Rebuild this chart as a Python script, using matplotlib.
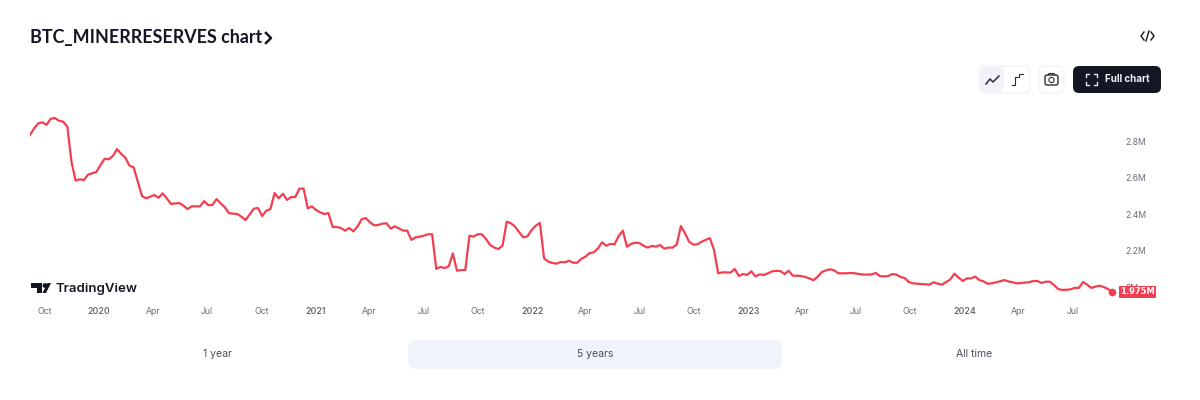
import numpy as np
import pandas as pd
import matplotlib.pyplot as plt
from matplotlib.patches import FancyBboxPatch, Polygon, Rectangle, Circle

plt.rcParams['font.family'] = ['Inter', 'DejaVu Sans']

# weekly miner reserves, millions of BTC
reserves = [
    2.833, 2.869, 2.897, 2.902, 2.889, 2.922, 2.926, 2.911, 2.906, 2.879,
    2.687, 2.583, 2.590, 2.586, 2.616, 2.623, 2.630, 2.668, 2.703, 2.700,
    2.718, 2.756, 2.729, 2.709, 2.665, 2.656, 2.577, 2.499, 2.486, 2.495,
    2.504, 2.489, 2.513, 2.486, 2.455, 2.458, 2.460, 2.446, 2.427, 2.442,
    2.442, 2.442, 2.471, 2.449, 2.449, 2.482, 2.458, 2.437, 2.404, 2.402,
    2.400, 2.385, 2.367, 2.398, 2.429, 2.433, 2.389, 2.418, 2.427, 2.515,
    2.486, 2.511, 2.477, 2.493, 2.493, 2.539, 2.539, 2.431, 2.442, 2.422,
    2.409, 2.400, 2.405, 2.329, 2.329, 2.323, 2.309, 2.323, 2.305, 2.331,
    2.371, 2.378, 2.354, 2.338, 2.340, 2.347, 2.349, 2.320, 2.332, 2.321,
    2.309, 2.309, 2.258, 2.272, 2.276, 2.281, 2.289, 2.289, 2.099, 2.110,
    2.104, 2.113, 2.184, 2.089, 2.093, 2.093, 2.281, 2.276, 2.289, 2.289,
    2.263, 2.230, 2.216, 2.208, 2.228, 2.358, 2.349, 2.331, 2.300, 2.272,
    2.278, 2.312, 2.336, 2.351, 2.157, 2.139, 2.132, 2.128, 2.137, 2.135,
    2.144, 2.133, 2.133, 2.155, 2.166, 2.186, 2.190, 2.212, 2.245, 2.226,
    2.236, 2.234, 2.279, 2.309, 2.221, 2.236, 2.243, 2.241, 2.226, 2.216,
    2.225, 2.221, 2.230, 2.210, 2.216, 2.216, 2.232, 2.334, 2.294, 2.248,
    2.232, 2.234, 2.248, 2.258, 2.268, 2.203, 2.075, 2.080, 2.080, 2.079,
    2.099, 2.060, 2.071, 2.066, 2.086, 2.058, 2.069, 2.066, 2.075, 2.086,
    2.088, 2.088, 2.071, 2.089, 2.062, 2.062, 2.060, 2.055, 2.047, 2.037,
    2.057, 2.082, 2.091, 2.097, 2.091, 2.075, 2.075, 2.075, 2.077, 2.075,
    2.071, 2.068, 2.068, 2.069, 2.077, 2.060, 2.058, 2.060, 2.071, 2.068,
    2.055, 2.049, 2.027, 2.020, 2.018, 2.016, 2.015, 2.013, 2.026, 2.018,
    2.013, 2.027, 2.042, 2.073, 2.051, 2.033, 2.047, 2.047, 2.057, 2.038,
    2.031, 2.018, 2.020, 2.026, 2.031, 2.038, 2.031, 2.026, 2.020, 2.022,
    2.024, 2.026, 2.033, 2.033, 2.022, 2.029, 2.029, 2.011, 1.989, 1.984,
    1.985, 1.987, 1.995, 1.995, 2.027, 2.013, 1.995, 2.002, 2.007, 2.000,
    1.989, 1.975,
]
tick_dates = [
    '2019-10-01', '2020-01-01', '2020-04-01', '2020-07-01', '2020-10-01',
    '2021-01-01', '2021-04-01', '2021-07-01', '2021-10-01', '2022-01-01',
    '2022-04-01', '2022-07-01', '2022-10-01', '2023-01-01', '2023-04-01',
    '2023-07-01', '2023-10-01', '2024-01-01', '2024-04-01', '2024-07-01',
]
tick_labels = [
    'Oct', '2020', 'Apr', 'Jul', 'Oct', '2021', 'Apr', 'Jul', 'Oct', '2022',
    'Apr', 'Jul', 'Oct', '2023', 'Apr', 'Jul', 'Oct', '2024', 'Apr', 'Jul',
]
y_ticks = [2.0, 2.2, 2.4, 2.6, 2.8]
y_labels = ['2M', '2.2M', '2.4M', '2.6M', '2.8M']
ranges = ['1 year', '5 years', 'All time']

RED = '#F23F50'
DARK = '#131722'
GREY = '#6A6D78'

W, H = 1200, 400
dates = pd.date_range('2019-09-06', periods=len(reserves), freq='7D')

fig = plt.figure(figsize=(12, 4), dpi=100)

# main chart, spans pixels 30-1112 across and 100-300 down
ax = fig.add_axes([30 / W, 1 - 300 / H, (1112 - 30) / W, 200 / H])
ax.plot(dates, reserves, color=RED, lw=1.6, solid_joinstyle='round')
ax.plot(dates[-1], reserves[-1], 'o', color=RED, ms=4.5, clip_on=False)
ax.set_xlim(dates[0], dates[-1])
ax.set_ylim(1.9288, 3.0247)
for s in ax.spines.values():
    s.set_visible(False)
ax.set_xticks(pd.to_datetime(tick_dates))
ax.set_xticklabels(tick_labels, fontsize=6.3, color=GREY)
for lab in ax.get_xticklabels():
    if lab.get_text().isdigit():
        lab.set_fontweight('semibold')
ax.set_yticks(y_ticks)
ax.set_yticklabels(y_labels, fontsize=6.2, color=GREY)
ax.yaxis.tick_right()
ax.tick_params(axis='x', length=0, pad=5)
ax.tick_params(axis='y', length=0, pad=9.5)

# page furniture in pixel coordinates
ui = fig.add_axes([0, 0, 1, 1], zorder=3)
ui.set_xlim(0, W)
ui.set_ylim(H, 0)
ui.axis('off')
ui.patch.set_alpha(0)


def box(x0, y0, x1, y1, color, edge='none', r=6):
    ui.add_patch(FancyBboxPatch((x0 + r, y0 + r), x1 - x0 - 2 * r, y1 - y0 - 2 * r,
                                boxstyle=f'round,pad={r},rounding_size={r}',
                                fc=color, ec=edge, lw=1))


ui.text(30, 37, 'BTC_MINERRESERVES chart', fontsize=12.9, fontweight='bold',
        color=DARK, va='center', family=['Lato', 'DejaVu Sans'])
ui.plot([266, 271, 266], [33, 38, 43], color=DARK, lw=1.8)

# embed icon
ui.plot([1144, 1141, 1144], [32, 36, 40], color=DARK, lw=1)
ui.plot([1151, 1154, 1151], [32, 36, 40], color=DARK, lw=1)
ui.plot([1146, 1149], [41, 31], color=DARK, lw=1)

# line / step toggle
box(979, 66, 1030, 93, 'white', '#F0F3FA')
box(980, 67, 1004, 92, '#F0F3FA')
ui.plot([986, 990, 993, 999], [84, 79, 82, 76], color='#2A2E39', lw=1.1)
ui.plot([1012, 1015, 1015, 1019, 1019, 1023], [85, 85, 77, 77, 74, 74], color='#2A2E39', lw=0.8)

# camera
box(1039, 66, 1064, 93, 'white', '#F0F3FA')
box(1045, 75, 1058, 85, 'white', '#2A2E39', r=2)
ui.plot([1048, 1049, 1054, 1055], [75, 73.5, 73.5, 75], color='#2A2E39', lw=0.8)
ui.add_patch(Circle((1051.5, 80), 2.6, fc='white', ec='#2A2E39', lw=0.8))

# full chart button
box(1073, 66, 1161, 93, DARK)
for cx, cy, dx, dy in [(1086, 74, 1, 1), (1097, 74, -1, 1), (1086, 85, 1, -1), (1097, 85, -1, -1)]:
    ui.plot([cx + 3 * dx, cx, cx], [cy, cy, cy + 3 * dy], color='#E0E3EB', lw=1)
ui.text(1105, 79, 'Full chart', fontsize=7, fontweight='bold', color='#F0F3FA', va='center')

# TradingView mark
ui.add_patch(Polygon([(31, 283), (42, 283), (42, 293), (37, 293), (37, 288), (31, 288)],
                     fc=DARK, ec='none'))
ui.add_patch(Circle((45, 285.5), 2.4, fc=DARK, ec='none'))
ui.add_patch(Polygon([(46, 293), (51, 283), (47.5, 283), (42.5, 293)], fc=DARK, ec='none'))
ui.text(56, 289, 'TradingView', fontsize=9.5, fontweight='semibold', color=DARK, va='center')

# last value tag
ui.add_patch(Rectangle((1119, 286), 37, 11.5, fc=RED, ec='none'))
ui.text(1137.5, 291.8, f'{reserves[-1]:.3f}M', fontsize=6, fontweight='bold', color='white',
        ha='center', va='center', family=['DejaVu Sans'])

# range tabs
box(408, 340, 782, 369, '#F0F3FA', r=8)
for label, x in zip(ranges, [217, 595, 974]):
    ui.text(x, 354, label, fontsize=7.5, color='#4A4E59', ha='center', va='center')

fig.savefig('out.png', dpi=100)
